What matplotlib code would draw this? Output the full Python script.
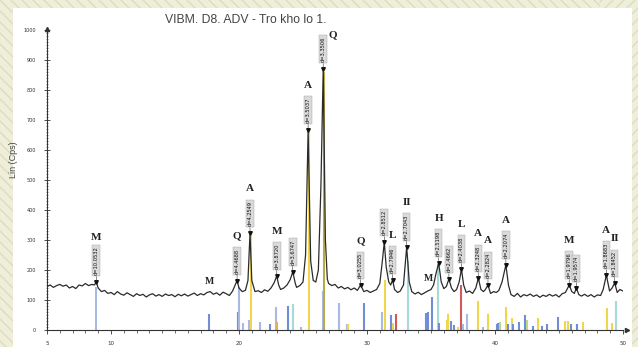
import matplotlib
matplotlib.use('Agg')
import matplotlib.pyplot as plt
from matplotlib.patches import Rectangle
from matplotlib.lines import Line2D

W, H = 638, 347

title = "VIBM. D8. ADV - Tro kho lo 1."
y_label = "Lin (Cps)"

scan_2theta = [5.00, 5.25, 5.50, 5.75, 6.00, 6.25, 6.50, 6.75, 7.00, 7.25, 7.50, 7.75, 8.00, 8.25, 8.50, 8.70, 8.85,
               9.00, 9.25, 9.50, 9.75, 10.00, 10.25, 10.50, 10.75, 11.00, 11.25, 11.50, 11.75, 12.00, 12.25, 12.50,
               12.75, 13.00, 13.25, 13.50, 13.75, 14.00, 14.25, 14.50, 14.75, 15.00, 15.25, 15.50, 15.75, 16.00,
               16.25, 16.50, 16.75, 17.00, 17.25, 17.50, 17.75, 18.00, 18.25, 18.50, 18.75, 19.00, 19.25, 19.50,
               19.70, 19.85, 20.00, 20.25, 20.50, 20.70, 20.86, 21.00, 21.25, 21.50, 21.75, 22.00, 22.25, 22.50,
               22.75, 22.95, 23.10, 23.25, 23.50, 23.75, 24.00, 24.20, 24.40, 24.50, 24.75, 25.00, 25.20, 25.40,
               25.60, 25.80, 26.00, 26.20, 26.40, 26.58, 26.75, 26.90, 27.00, 27.25, 27.50, 27.75, 28.00, 28.25,
               28.50, 28.75, 29.00, 29.25, 29.50, 29.75, 30.00, 30.25, 30.50, 30.75, 31.00, 31.20, 31.35, 31.50,
               31.70, 31.85, 32.00, 32.15, 32.40, 32.60, 32.85, 33.10, 33.30, 33.50, 33.75, 34.00, 34.25, 34.50,
               34.75, 35.00, 35.20, 35.40, 35.60, 35.80, 36.00, 36.20, 36.40, 36.60, 36.80, 37.00, 37.20, 37.38,
               37.55, 37.75, 38.00, 38.25, 38.50, 38.70, 38.90, 39.10, 39.25, 39.45, 39.65, 39.90, 40.10, 40.30,
               40.55, 40.85, 41.05, 41.25, 41.50, 41.75, 42.00, 42.25, 42.50, 42.75, 43.00, 43.25, 43.50, 43.75,
               44.00, 44.25, 44.50, 44.75, 45.00, 45.25, 45.50, 45.80, 46.00, 46.20, 46.35, 46.55, 46.75, 47.00,
               47.25, 47.50, 47.75, 48.00, 48.25, 48.45, 48.70, 48.95, 49.15, 49.35, 49.55, 49.75, 50.00]
scan_counts = [145, 150, 142, 148, 152, 146, 150, 140, 145, 138, 150, 147, 155, 148, 152, 150, 160,
               140, 128, 132, 122, 125, 118, 128, 120, 116, 124, 118, 112, 121, 115, 119,
               110, 117, 121, 113, 118, 112, 120, 115, 118, 111, 119, 114, 120, 113,
               118, 123, 115, 121, 117, 125, 128, 119, 124, 116, 126, 121, 115, 130,
               150, 165, 140, 128, 132, 165, 323, 165, 128, 131, 125, 134, 129, 140,
               158, 180, 150, 135, 140, 150, 168, 194, 155, 142, 148, 160, 250, 667,
               230, 165, 160, 200, 480, 870, 300, 170, 155, 148, 152, 140, 145, 137,
               142, 134, 140, 132, 150, 128, 132, 125, 130, 135, 155, 230, 293, 210,
               160, 150, 167, 135, 125, 130, 150, 277, 160, 128, 120, 126, 118, 124,
               130, 135, 150, 190, 223, 160, 138, 145, 170, 140, 128, 135, 160, 203,
               150, 125, 130, 122, 140, 173, 135, 128, 135, 150, 122, 128, 125, 132,
               160, 217, 150, 118, 112, 122, 110, 118, 114, 120, 112, 117, 109, 116,
               112, 119, 113, 118, 110, 121, 125, 150, 128, 122, 140, 118, 113, 119,
               112, 118, 110, 117, 115, 135, 183, 130, 140, 157, 125, 135, 130]

# reference stick patterns
stick_2theta = [8.85, 17.65, 19.90, 20.02, 20.30, 20.75, 20.90, 21.64, 22.42, 22.89, 22.99, 23.80, 24.24, 24.82,
                25.45, 26.54, 26.62, 27.84, 28.41, 28.54, 29.79, 31.15, 31.41, 31.88, 32.01, 32.24, 33.18, 34.61,
                34.74, 35.05, 35.57, 35.62, 36.23, 36.35, 36.54, 36.80, 37.09, 37.34, 37.48, 37.79, 38.65, 39.04,
                39.43, 40.13, 40.26, 40.39, 40.84, 41.04, 41.30, 41.38, 41.90, 42.34, 42.52, 42.99, 43.38, 43.65,
                44.04, 44.95, 45.47, 45.73, 45.91, 46.38, 46.85, 48.73, 49.12, 49.45]
stick_height = [143, 53, 60, 143, 23, 33, 320, 28, 20, 78, 28, 80, 87, 10,
                660, 130, 860, 91, 20, 20, 91, 61, 167, 50, 24, 53, 230, 57,
                61, 111, 220, 24, 33, 53, 31, 17, 10, 150, 20, 53, 97, 10,
                55, 20, 24, 28, 78, 20, 40, 20, 28, 50, 33, 15, 39, 12,
                19, 44, 31, 31, 20, 20, 28, 74, 24, 98]
stick_kind = ['lb', 'mb', 'mb', 'lb', 'lb', 'lb', 'ye', 'lb', 'mb', 'lb', 'or', 'mb', 'cy', 'lb',
              'ye', 'lb', 'ol', 'lb', 'lb', 'ye', 'mb', 'lb', 'ye', 'mb', 'ye', 'rd', 'cy', 'mb',
              'mb', 'mb', 'cy', 'mb', 'ye', 'ye', 'mb', 'mb', 'ye', 'rd', 'lb', 'lb', 'ye', 'lb',
              'ye', 'mb', 'mb', 'gr', 'ye', 'mb', 'ye', 'mb', 'mb', 'mb', 'gr', 'mb', 'ye', 'mb',
              'mb', 'mb', 'ye', 'ye', 'mb', 'mb', 'ye', 'ye', 'ye', 'cy']
stick_colors = {'lb': '#a9b9e6', 'mb': '#6f8ed6', 'ye': '#f0d64a', 'cy': '#a6dada',
                'rd': '#cf5a5a', 'or': '#e8ac5c', 'gr': '#b9d68e', 'ol': '#b8aa48'}

# labelled peaks
peak_2theta = [8.85, 19.85, 20.86, 22.95, 24.20, 25.40, 26.58, 29.50, 31.35, 32.00, 33.10,
               35.60, 36.40, 37.38, 38.70, 39.45, 40.85, 45.80, 46.35, 48.70, 49.35]
peak_counts = [160, 165, 323, 180, 194, 667, 870, 150, 293, 167, 277,
               223, 170, 203, 173, 150, 217, 150, 140, 183, 157]
peak_dlabel = ["d=10.0532", "d=4.4688", "d=4.2549", "d=3.8720", "d=3.6747", "d=3.5037", "d=3.3506",
               "d=3.0255", "d=2.8512", "d=2.7946", "d=2.7043", "d=2.5198", "d=2.4662", "d=2.4038",
               "d=2.3248", "d=2.2824", "d=2.2074", "d=1.9796", "d=1.9574", "d=1.8683", "d=1.8452"]
peak_phase = ['M', 'Q', 'A', 'M', '', 'A', 'Q', 'Q', '', 'L', 'II', 'H', '', 'L', 'A', 'A', 'A', 'M', '', 'A', 'II']

# phase letters without a d-label
free_letter = ['M', 'M']
free_2theta = [17.70, 34.80]
free_counts = [160, 173]

x_ticks = [5, 10, 20, 30, 40, 50]
y_ticks = [0, 100, 200, 300, 400, 500, 600, 700, 800, 900, 1000]

fig = plt.figure(figsize=(W / 100, H / 100), dpi=100)
fig.patch.set_facecolor('#eeeed9')

# striped slide background: "\" stripes on the left/top, "/" stripes on the right strip
for i in range(-40, 70):
    x0 = i * 11
    fig.add_artist(Line2D([x0 / W, (x0 + 400) / W], [1, 1 - 400 / H], transform=fig.transFigure,
                          color='#dcdcc2', lw=1.0, zorder=-4))
fig.add_artist(Rectangle((600 / W, 0), 38 / W, 1, transform=fig.transFigure,
                         facecolor='#eeeed9', edgecolor='none', zorder=-3.5))
for i in range(0, 50):
    y0 = i * 11 - 40
    fig.add_artist(Line2D([600 / W, 1], [y0 / H, (y0 + 38) / H], transform=fig.transFigure,
                          color='#dcdcc2', lw=1.0, zorder=-3))
fig.add_artist(Rectangle((13 / W, 0), (632 - 13) / W, (H - 8) / H, transform=fig.transFigure,
                         facecolor='white', edgecolor='none', zorder=-2))

ax = fig.add_axes([47 / W, 17 / H, 576 / W, 300 / H])
ax.set_facecolor('none')
ax.set_xlim(5, 50)
ax.set_ylim(0, 1000)

for s in ['top', 'right']:
    ax.spines[s].set_visible(False)
for s in ['left', 'bottom']:
    ax.spines[s].set_color('#333333')
    ax.spines[s].set_linewidth(0.8)

ax.set_xticks(x_ticks)
ax.set_xticklabels([str(v) for v in x_ticks])
ax.set_xticks(range(5, 51), minor=True)
ax.set_yticks(y_ticks)
ax.set_yticklabels([str(v) for v in y_ticks])
ax.set_yticks(range(0, 1001, 10), minor=True)
ax.tick_params(axis='x', which='major', direction='out', length=3, width=0.6, labelsize=4, colors='#333333', pad=5)
ax.tick_params(axis='x', which='minor', direction='out', length=2, width=0.5, colors='#333333')
ax.tick_params(axis='y', which='major', direction='inout', length=4, width=0.6, labelsize=3.5, colors='#333333', pad=6)
ax.tick_params(axis='y', which='minor', direction='inout', length=2, width=0.4, colors='#333333')

# axis arrows
ax.plot([50.35], [0], marker='>', ms=3, color='#333333', clip_on=False)
ax.plot([5], [1005], marker='^', ms=3, color='#333333', clip_on=False)

ax.vlines(stick_2theta, 0, stick_height, colors=[stick_colors[k] for k in stick_kind], linewidth=1.5, zorder=1)
ax.plot(scan_2theta, scan_counts, color='#2b2b2b', lw=0.9, zorder=3)
ax.plot(peak_2theta, peak_counts, 'v', ms=2.6, color='#111111', zorder=4)

letter_font = dict(fontsize=8, fontweight='bold', family='Liberation Serif', color='#222222')
for t, c, d, p in zip(peak_2theta, peak_counts, peak_dlabel, peak_phase):
    ax.annotate(d, xy=(t, c), xytext=(0, 5), textcoords='offset points', rotation=90,
                ha='center', va='bottom', fontsize=3.7, color='#111111', zorder=5,
                bbox=dict(boxstyle='square,pad=0.25', fc='#dadada', ec='#a0a0a0', lw=0.3),
                arrowprops=dict(arrowstyle='-', lw=0.4, color='#333333', shrinkA=0, shrinkB=1))
    if p:
        if t > 26.5 and t < 26.7:
            dx, dy = 7, 25
        else:
            dx, dy = 0, 32
        ax.annotate(p, xy=(t, c), xytext=(dx, dy), textcoords='offset points',
                    ha='center', va='center', zorder=5, **letter_font)

for l, t, c in zip(free_letter, free_2theta, free_counts):
    ax.text(t, c, l, ha='center', va='center', zorder=5,
            fontsize=7, fontweight='bold', family='Liberation Serif', color='#222222')

fig.text(246 / W, 1 - 20 / H, title, fontsize=8.8, family='Liberation Sans', color='#444444',
         ha='center', va='center')
fig.text(13 / W, 1 - 160 / H, y_label, rotation=90, fontsize=6.5, family='Liberation Sans',
         color='#444444', ha='center', va='center')

fig.savefig('out.png', dpi=100, facecolor=fig.get_facecolor())
